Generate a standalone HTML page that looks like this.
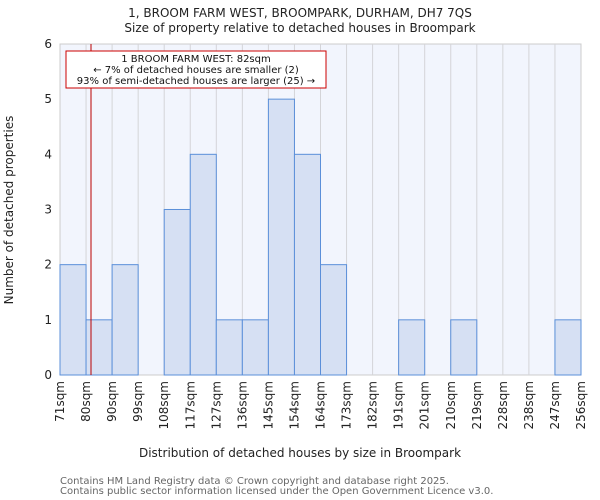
<!DOCTYPE html>
<html><head><meta charset="utf-8"><style>body{margin:0;background:#fff}svg{display:block}text{font-family:"DejaVu Sans","Liberation Sans",sans-serif}</style></head><body>
<svg width="600" height="500" xmlns="http://www.w3.org/2000/svg">
<text x="300" y="17" font-size="12" text-anchor="middle" fill="#222">1, BROOM FARM WEST, BROOMPARK, DURHAM, DH7 7QS</text>
<text x="300" y="32" font-size="12" text-anchor="middle" fill="#222">Size of property relative to detached houses in Broompark</text>
<rect x="60" y="44" width="521" height="331" fill="#f2f5fd" stroke="#ccc"/>
<g id="grid" stroke="#d4d4d8" stroke-width="1"></g>
<g id="bars" fill="#d6e0f3" stroke="#5b8fd9" stroke-width="1"></g>
<line x1="91" y1="44" x2="91" y2="375" stroke="#b00" stroke-width="1"/>
<rect x="66" y="51" width="260" height="37" fill="#fff" stroke="#c00" stroke-width="1"/>
<text font-size="10" text-anchor="middle" fill="#111"><tspan x="196" y="62">1 BROOM FARM WEST: 82sqm</tspan><tspan x="196" y="73">← 7% of detached houses are smaller (2)</tspan><tspan x="196" y="84">93% of semi-detached houses are larger (25) →</tspan></text>
<g id="yt" font-size="12" text-anchor="end" fill="#222"></g>
<g id="xt" font-size="12" fill="#222"></g>
<text x="300" y="457" font-size="12" text-anchor="middle" fill="#222">Distribution of detached houses by size in Broompark</text>
<text transform="translate(13,210) rotate(-90)" font-size="12" text-anchor="middle" fill="#222">Number of detached properties</text>
<text x="60" y="484" font-size="10" fill="#666">Contains HM Land Registry data © Crown copyright and database right 2025.</text>
<text x="60" y="494" font-size="10" fill="#666">Contains public sector information licensed under the Open Government Licence v3.0.</text>
</svg>
<script>
const ns="http://www.w3.org/2000/svg";
const L=60,W=26.05,B=375,U=55.17;
const v=[2,1,2,0,3,4,1,1,5,4,2,0,0,1,0,1,0,0,0,1];
const lab=["71sqm","80sqm","90sqm","99sqm","108sqm","117sqm","127sqm","136sqm","145sqm","154sqm","164sqm","173sqm","182sqm","191sqm","201sqm","210sqm","219sqm","228sqm","238sqm","247sqm","256sqm"];
function el(t,a,p,txt){const e=document.createElementNS(ns,t);for(const k in a)e.setAttribute(k,a[k]);if(txt)e.textContent=txt;document.getElementById(p).appendChild(e);}
for(let i=1;i<20;i++)el("line",{x1:L+i*W,x2:L+i*W,y1:44,y2:375},"grid");
v.forEach((h,i)=>{if(h>0)el("rect",{x:L+i*W,y:B-h*U,width:W,height:h*U},"bars");});
for(let i=0;i<=6;i++)el("text",{x:52,y:B-i*U+4},"yt",""+i);
lab.forEach((t,i)=>{const x=L+i*W+4;el("text",{transform:`translate(${x},381) rotate(-90)`,"text-anchor":"end"},"xt",t);});
</script>
</body></html>
